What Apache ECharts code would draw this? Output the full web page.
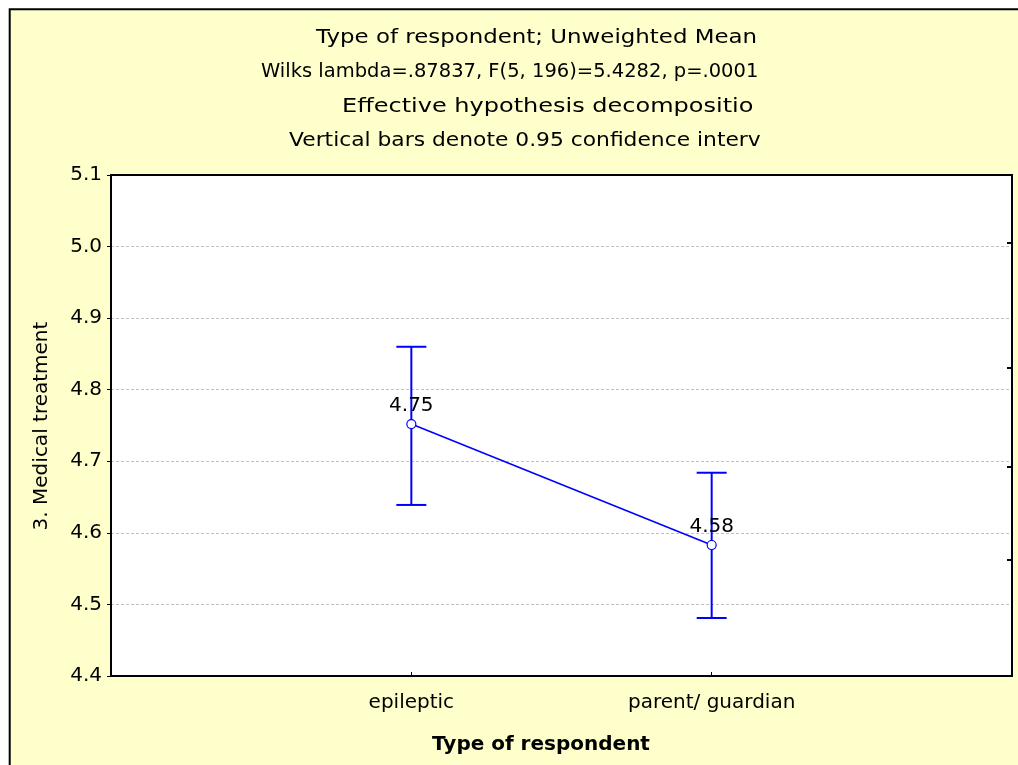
<!DOCTYPE html>
<html>
<head>
<meta charset="utf-8">
<script src="https://cdn.jsdelivr.net/npm/echarts@6/dist/echarts.min.js"></script>
<style>
  html, body { margin: 0; padding: 0; background: #ffffff; }
  #chart { width: 1018px; height: 765px; }
</style>
</head>
<body>
<div id="chart"></div>
<script>
// ---- data ----
const categories = ['epileptic', 'parent/ guardian'];
const categoryPositions = [1, 2];
const means = [4.752, 4.583];
const meanLabels = ['4.75', '4.58'];
const lowerCI = [4.639, 4.481];
const upperCI = [4.860, 4.684];
const rightTicks = [5.006, 4.830, 4.693, 4.562];
const titleLines = [
  'Type of respondent; Unweighted Means',
  'Wilks lambda=.87837, F(5, 196)=5.4282, p=.0001',
  'Effective hypothesis decomposition',
  'Vertical bars denote 0.95 confidence intervals'
];
const yAxisTitle = '3. Medical treatment';
const xAxisTitle = 'Type of respondent';

// ---- chart ----
const FONT = 'DejaVu Sans';
const chart = echarts.init(document.getElementById('chart'), null, { renderer: 'canvas' });

// title layout (text is clipped at the right edge of the title box, as in the original)
const titleStarts = [316, 261, 342, 289];
const titleCenters = [38, 72, 106.5, 140.5];
const titleScales = [1.145, 0.975, 1.2, 1.09];
const clipRight = [762, 775, 762, 762];

const meanData = categoryPositions.map((x, i) => [x, means[i], meanLabels[i]]);
const errData = categoryPositions.map((x, i) => [x, lowerCI[i], upperCI[i]]);

const titleGraphics = titleLines.map((t, i) => ({
  type: 'text', silent: true,
  x: titleStarts[i], y: titleCenters[i],
  scaleX: titleScales[i], scaleY: 1,
  style: {
    text: t, font: '20px "' + FONT + '"', fill: '#000',
    align: 'left', verticalAlign: 'middle',
    width: (clipRight[i] - titleStarts[i]) / titleScales[i],
    overflow: 'truncate', ellipsis: ''
  }
}));

const option = {
  backgroundColor: '#ffffff',
  animation: false,
  textStyle: { fontFamily: FONT },
  graphic: [
    {
      type: 'rect', z: -100, silent: true,
      shape: { x: 9.7, y: 9.2, width: 1100, height: 800 },
      style: { fill: '#FFFFCC', stroke: '#000', lineWidth: 2 }
    },
    ...titleGraphics,
    {
      type: 'text', silent: true,
      x: 42, y: 426, rotation: Math.PI / 2,
      style: {
        text: yAxisTitle, font: '20px "' + FONT + '"', fill: '#000',
        align: 'center', verticalAlign: 'middle'
      }
    },
    {
      type: 'text', silent: true,
      x: 541, y: 745,
      style: {
        text: xAxisTitle, font: 'bold 20px "' + FONT + '"', fill: '#000',
        align: 'center', verticalAlign: 'middle'
      }
    }
  ],
  grid: {
    left: 111, top: 175, right: 6, bottom: 89,
    show: true, backgroundColor: '#ffffff', borderColor: '#000', borderWidth: 2,
    containLabel: false
  },
  xAxis: {
    type: 'value', min: 0, max: 3, interval: 1,
    axisLine: { show: true, onZero: false, lineStyle: { color: '#000', width: 2 } },
    axisTick: { show: true, inside: true, length: 4, customValues: categoryPositions, lineStyle: { color: '#000' } },
    axisLabel: {
      show: true, margin: 17, fontFamily: FONT, fontSize: 20, color: '#000',
      customValues: categoryPositions,
      formatter: v => { const i = categoryPositions.indexOf(v); return i >= 0 ? categories[i] : ''; }
    },
    splitLine: { show: true, showMinLine: false, showMaxLine: false, lineStyle: { color: '#c0c0c0', type: [3, 2], width: 1 } }
  },
  yAxis: [
    {
      type: 'value', min: 4.4, max: 5.1, interval: 0.1,
      axisLine: { show: true, lineStyle: { color: '#000', width: 2 } },
      axisTick: { show: true, inside: false, length: 4, lineStyle: { color: '#000' } },
      axisLabel: {
        margin: 9, fontFamily: FONT, fontSize: 20, color: '#000',
        formatter: v => v.toFixed(1)
      },
      splitLine: { show: true, showMinLine: false, showMaxLine: false, lineStyle: { color: '#c0c0c0', type: [3, 2], width: 1 } }
    },
    {
      type: 'value', min: 4.4, max: 5.1, position: 'right',
      axisLine: { show: true, lineStyle: { color: '#000', width: 2 } },
      axisTick: { show: true, inside: true, length: 5, customValues: rightTicks, lineStyle: { color: '#000', width: 2 } },
      axisLabel: { show: false },
      splitLine: { show: false }
    }
  ],
  series: [
    {
      type: 'custom',
      renderItem: (params, api) => {
        const x = api.value(0);
        const lo = api.coord([x, api.value(1)]);
        const hi = api.coord([x, api.value(2)]);
        const cap = 15;
        const st = { stroke: '#0000FF', lineWidth: 2 };
        return {
          type: 'group',
          children: [
            { type: 'line', shape: { x1: lo[0], y1: lo[1], x2: hi[0], y2: hi[1] }, style: st },
            { type: 'line', shape: { x1: lo[0] - cap, y1: lo[1], x2: lo[0] + cap, y2: lo[1] }, style: st },
            { type: 'line', shape: { x1: hi[0] - cap, y1: hi[1], x2: hi[0] + cap, y2: hi[1] }, style: st }
          ]
        };
      },
      encode: { x: 0, y: [1, 2] },
      data: errData,
      z: 2
    },
    {
      type: 'line',
      data: meanData,
      symbol: 'circle', symbolSize: 9,
      lineStyle: { color: '#0000FF', width: 1.6 },
      itemStyle: { color: '#ffffff', borderColor: '#0000FF', borderWidth: 1.2 },
      label: {
        show: true, position: 'top', distance: 3,
        formatter: p => p.data[2],
        fontFamily: FONT, fontSize: 20, color: '#000'
      },
      z: 3
    }
  ]
};
chart.setOption(option);
</script>
</body>
</html>
